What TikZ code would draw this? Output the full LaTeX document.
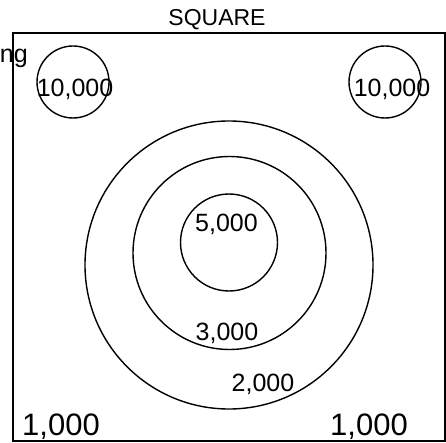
\documentclass[tikz,border=0pt]{standalone}
\usepackage{fontspec}
\setmainfont{Liberation Sans}
\tikzset{
  ring/.style={draw, circle, line width=1.4pt, inner sep=0pt},
  val/.style={anchor=base, inner sep=0pt, font=\fontsize{25}{25}\selectfont},
  corner/.style={anchor=base, inner sep=0pt, font=\fontsize{31}{31}\selectfont}
}
\begin{document}
\begin{tikzpicture}[x=1pt, y=-1pt]
\useasboundingbox (0,0) rectangle (446,443);
\begin{scope}
\clip (0,0) rectangle (446,443);
\draw[line width=1.6pt] (13,33) rectangle (445,441);
\node[anchor=base, inner sep=0pt, font=\fontsize{23}{23}\selectfont] (title) at (217,26) {SQUARE};
\node[anchor=base east, inner sep=0pt, font=\fontsize{25}{25}\selectfont] (cut) at (28,63) {ng};
\node[ring, minimum size=72pt] (tl) at (73,82) {};
\node[ring, minimum size=72pt] (tr) at (385,82) {};
\node[ring, minimum size=288pt] (outer) at (229,265) {};
\node[ring, minimum size=193pt] (middle) at (229.5,253) {};
\node[ring, minimum size=97pt] (inner) at (229,242.5) {};
\node[val] (tlval) at (75,97) {10,000};
\node[val] (trval) at (392,97) {10,000};
\node[val] (innerval) at (226.5,232) {5,000};
\node[val] (middleval) at (227,340) {3,000};
\node[val] (outerval) at (263,391) {2,000};
\node[corner] (bl) at (61,435) {1,000};
\node[corner] (br) at (369,435) {1,000};
\end{scope}
\end{tikzpicture}
\end{document}
